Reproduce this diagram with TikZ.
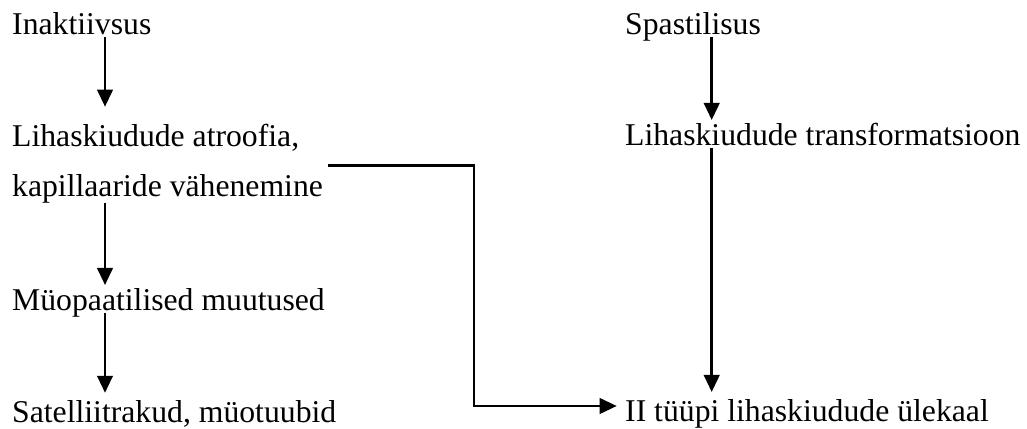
\documentclass[tikz,border=0pt]{standalone}
\usepackage{fontspec}
\setmainfont{Liberation Serif}
\usetikzlibrary{arrows.meta,calc}
\tikzset{
  lbl/.style={anchor=base west, inner sep=0pt, font=\fontsize{31.7pt}{50pt}\selectfont},
  conn/.style={line width=2.5pt, -{Triangle[length=17pt,width=15.5pt]}},
}
\begin{document}
\begin{tikzpicture}[x=1pt,y=1pt]
\useasboundingbox (0,0) rectangle (1027,428);
% left column
\node[lbl] (n1) at (12,393) {Inaktiivsus};
\node[lbl] (n2) at (12,281.3) {Lihaskiudude atroofia,};
\node[lbl] (n2b) at (12,231.3) {kapillaaride vähenemine};
\node[lbl] (n3) at (12,117.3) {Müopaatilised muutused};
\node[lbl] (n4) at (12,5.5) {Satelliitrakud, müotuubid};
% right column
\node[lbl] (m1) at (625,393) {Spastilisus};
\node[lbl] (m2) at (625,282) {Lihaskiudude transformatsioon};
\node[lbl] (m3) at (625,6.3) {II tüüpi lihaskiudude ülekaal};
% connectors
\draw[conn] ($(n1.base west)+(93,-2)$) -- ($(n2.base west)+(93,40)$);
\draw[conn] ($(n2b.base west)+(93,-6)$) -- ($(n3.base west)+(93,25.7)$);
\draw[conn] ($(n3.base west)+(93,-2.3)$) -- ($(n4.base west)+(93,29.7)$);
\draw[conn] ($(m1.base west)+(86.7,-2)$) -- ($(m2.base west)+(86.7,26)$);
\draw[conn] ($(m2.base west)+(86.7,-2)$) -- ($(m3.base west)+(86.7,29.7)$);
\coordinate (e1) at ($(n2b.base west)+(316,31)$);
\coordinate (e2) at ($(m3.base west)+(-8.3,15.7)$);
\draw[conn] (e1) -- (474,0 |- e1) -- (474,0 |- e2) -- (e2);
\end{tikzpicture}
\end{document}
